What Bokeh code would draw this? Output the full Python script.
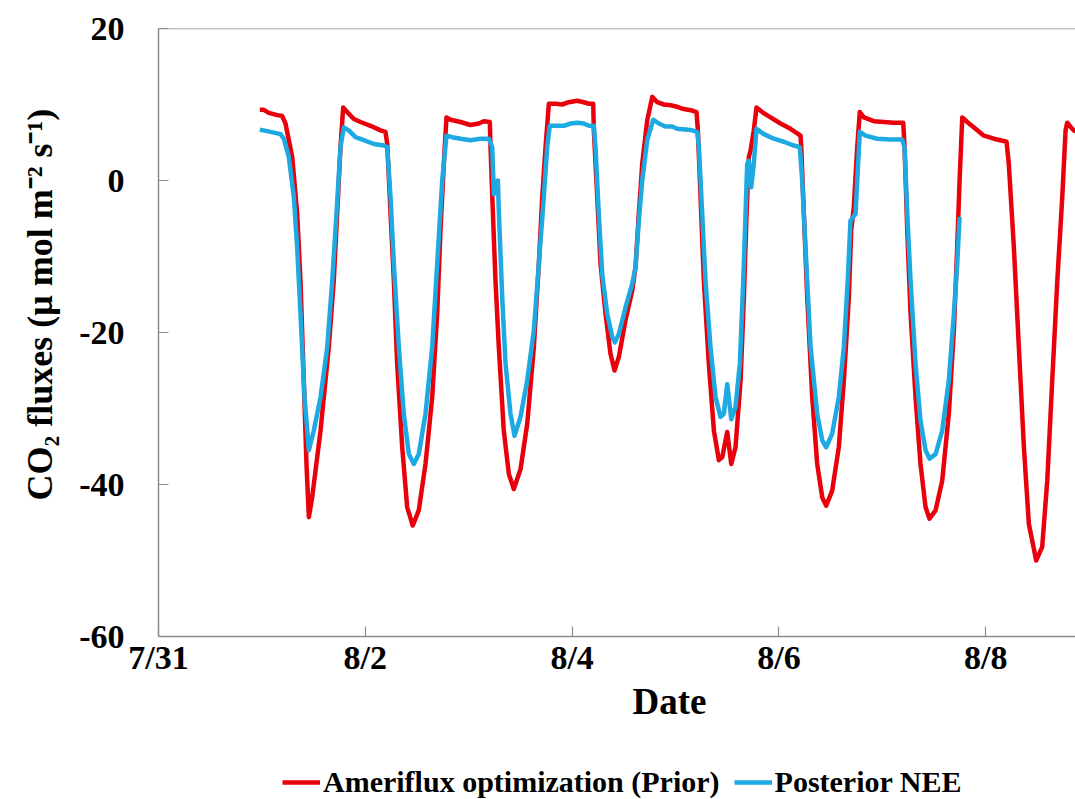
from bokeh.plotting import figure
from bokeh.layouts import column
from bokeh.models import Range1d, FixedTicker, Span, Title, Legend, LegendItem
from bokeh.embed import file_html
from bokeh.resources import INLINE

# ---- data (x = days since 7/31 00:00) ----
tick_days = [0, 2, 4, 6, 8]
tick_labels = ["7/31", "8/2", "8/4", "8/6", "8/8"]
y_ticks = [20, 0, -20, -40, -60]
y_tick_labels = ["20", "0", "-20", "-40", "-60"]

prior_day = [0.980, 1.018, 1.067, 1.148, 1.196, 1.228, 1.293, 1.341, 1.373, 1.405, 1.431, 1.454,
             1.486, 1.567, 1.647, 1.695, 1.728, 1.760, 1.786, 1.825, 1.889, 1.954, 2.050, 2.147,
             2.195, 2.212, 2.244, 2.276, 2.308, 2.357, 2.405, 2.459, 2.517, 2.582, 2.647, 2.695,
             2.727, 2.759, 2.785, 2.824, 2.921, 3.017, 3.098, 3.146, 3.204, 3.211, 3.227, 3.259,
             3.291, 3.339, 3.388, 3.436, 3.501, 3.566, 3.630, 3.678, 3.711, 3.743, 3.775, 3.839,
             3.904, 3.968, 4.049, 4.113, 4.162, 4.204, 4.210, 4.243, 4.275, 4.323, 4.371, 4.410,
             4.452, 4.516, 4.581, 4.613, 4.645, 4.678, 4.726, 4.775, 4.823, 4.887, 4.952, 5.016,
             5.080, 5.161, 5.203, 5.216, 5.242, 5.274, 5.322, 5.371, 5.419, 5.452, 5.500, 5.539,
             5.580, 5.629, 5.661, 5.687, 5.709, 5.725, 5.757, 5.783, 5.838, 5.919, 6.015, 6.112,
             6.209, 6.216, 6.241, 6.274, 6.322, 6.370, 6.419, 6.457, 6.515, 6.579, 6.628, 6.676,
             6.699, 6.724, 6.757, 6.782, 6.821, 6.918, 7.015, 7.111, 7.202, 7.215, 7.241, 7.273,
             7.321, 7.369, 7.418, 7.456, 7.515, 7.579, 7.643, 7.692, 7.724, 7.747, 7.773, 7.821,
             7.901, 7.982, 8.078, 8.201, 8.223, 8.272, 8.320, 8.369, 8.417, 8.488, 8.546, 8.595,
             8.643, 8.692, 8.740, 8.772, 8.788, 8.837, 8.868]
prior_flux = [9.3, 9.3, 8.9, 8.6, 8.5, 7.5, 3.1, -4.3, -13.2, -26.3, -37.3, -44.3,
              -41.7, -32.9, -21.9, -13.2, -4.3, 4.4, 9.6, 9.0, 8.1, 7.7, 7.2, 6.6,
              6.4, 4.8, -4.3, -13.2, -24.1, -35.1, -43.0, -45.4, -43.4, -37.3, -28.5, -17.5,
              -6.6, 2.2, 8.3, 8.0, 7.7, 7.3, 7.5, 7.8, 7.7, 4.4, -1.8, -13.2,
              -21.9, -32.9, -38.6, -40.6, -38.0, -32.0, -21.9, -11.0, -2.2, 4.4, 10.1, 10.1,
              10.0, 10.3, 10.5, 10.3, 10.1, 10.1, 6.6, -2.2, -11.0, -17.5, -22.8, -25.0,
              -23.2, -18.4, -14.5, -11.4, -4.4, 2.2, 7.9, 11.0, 10.3, 10.0, 9.9, 9.7,
              9.4, 9.2, 9.0, 6.6, -2.2, -13.2, -24.1, -32.9, -36.8, -36.4, -33.1, -37.3,
              -35.1, -26.3, -15.4, -4.4, 3.1, 3.9, 6.6, 9.6, 9.0, 8.3, 7.5, 6.8,
              5.9, 4.4, -4.4, -15.4, -28.5, -37.3, -41.7, -42.8, -40.8, -35.1, -26.3, -15.4,
              -6.6, -3.5, 4.4, 9.0, 8.3, 7.8, 7.7, 7.6, 7.6, 4.4, -6.6, -17.5,
              -28.5, -37.3, -43.0, -44.5, -43.4, -39.5, -30.7, -19.7, -8.8, 0.0, 8.3, 7.7,
              6.8, 5.9, 5.5, 5.1, 2.2, -8.8, -21.9, -35.1, -45.2, -50.0, -48.2, -39.5,
              -26.3, -13.2, -2.2, 6.6, 7.6, 6.8, 6.4]

post_day = [0.980, 1.083, 1.180, 1.212, 1.260, 1.309, 1.341, 1.373, 1.412, 1.454, 1.502, 1.567,
            1.632, 1.680, 1.721, 1.760, 1.792, 1.840, 1.905, 1.985, 2.082, 2.179, 2.212, 2.244,
            2.276, 2.324, 2.372, 2.421, 2.469, 2.517, 2.582, 2.647, 2.695, 2.744, 2.785, 2.840,
            2.921, 3.017, 3.114, 3.194, 3.227, 3.243, 3.259, 3.282, 3.291, 3.324, 3.356, 3.404,
            3.443, 3.501, 3.566, 3.630, 3.678, 3.726, 3.759, 3.784, 3.856, 3.920, 3.985, 4.049,
            4.113, 4.162, 4.210, 4.226, 4.258, 4.291, 4.339, 4.388, 4.413, 4.452, 4.516, 4.581,
            4.613, 4.645, 4.678, 4.726, 4.784, 4.838, 4.903, 4.968, 5.016, 5.097, 5.161, 5.210,
            5.226, 5.258, 5.290, 5.338, 5.387, 5.435, 5.467, 5.500, 5.539, 5.580, 5.622, 5.655,
            5.677, 5.693, 5.709, 5.732, 5.757, 5.783, 5.854, 5.950, 6.047, 6.144, 6.202, 6.225,
            6.257, 6.306, 6.370, 6.419, 6.457, 6.515, 6.579, 6.628, 6.665, 6.692, 6.741, 6.757,
            6.782, 6.838, 6.950, 7.079, 7.192, 7.215, 7.241, 7.273, 7.321, 7.369, 7.418, 7.456,
            7.515, 7.579, 7.643, 7.692, 7.724, 7.747]
post_flux = [6.7, 6.4, 6.1, 5.5, 3.1, -2.2, -8.8, -17.5, -28.5, -35.5, -32.9, -28.5,
             -21.9, -13.2, -4.4, 4.4, 7.0, 6.6, 5.7, 5.3, 4.8, 4.6, 4.4, -2.2,
             -11.0, -21.9, -30.7, -36.0, -37.3, -36.0, -30.7, -21.9, -11.0, 0.0, 5.9, 5.7,
             5.5, 5.3, 5.5, 5.5, 4.4, -1.8, -0.5, 0.0, -4.0, -15.4, -24.1, -30.7,
             -33.6, -31.1, -26.3, -19.7, -11.0, -2.2, 4.4, 7.2, 7.2, 7.2, 7.5, 7.6,
             7.5, 7.2, 7.2, 4.4, -4.4, -12.3, -17.5, -20.6, -21.3, -20.2, -16.7, -13.6,
             -11.4, -5.3, 0.0, 5.3, 8.0, 7.5, 7.1, 7.1, 6.8, 6.7, 6.6, 6.4,
             4.4, -4.4, -13.2, -21.9, -28.5, -31.1, -30.7, -26.8, -31.4, -29.8, -24.1, -13.2,
             -4.4, 2.2, 2.6, -0.9, 2.2, 6.8, 6.1, 5.5, 5.1, 4.6, 4.4, 0.0,
             -8.8, -21.9, -30.7, -34.2, -35.1, -33.3, -28.5, -21.9, -13.2, -5.3, -4.4, 0.0,
             6.4, 5.9, 5.5, 5.4, 5.4, 4.4, -4.4, -13.2, -24.1, -31.6, -35.5, -36.6,
             -36.0, -32.9, -26.3, -17.5, -11.0, -4.8]

series_names = ["Ameriflux optimization (Prior)", "Posterior NEE"]
x_title = "Date"
y_title = "CO\u2082 fluxes (\u03bc mol m\u207b\u00b2 s\u207b\u00b9)"

FONT = "Liberation Serif"
AXIS_COLOR = "#8C8C8C"
RED = "#E8000B"
BLUE = "#1DA9E1"
LW = 4.5

# ---------------- main chart ----------------
p = figure(frame_width=917, frame_height=608,
           x_range=Range1d(0, 8.868), y_range=Range1d(-60, 20),
           output_backend="svg", toolbar_location=None,
           min_border_left=158, min_border_right=0,
           min_border_top=28, min_border_bottom=100)
p.outline_line_color = None
p.xgrid.visible = False
p.ygrid.visible = False
p.background_fill_color = "white"
p.border_fill_color = "white"

p.line(prior_day, prior_flux, line_color=RED, line_width=LW, line_join="round")
p.line(post_day, post_flux, line_color=BLUE, line_width=LW, line_join="round")

for ax in (p.xaxis[0], p.yaxis[0]):
    ax.axis_line_color = AXIS_COLOR
    ax.axis_line_width = 1.5
    ax.major_tick_line_color = AXIS_COLOR
    ax.major_tick_line_width = 1.2
    ax.major_tick_in = 10
    ax.major_tick_out = 0
    ax.minor_tick_line_color = None
    ax.major_label_text_font = FONT
    ax.major_label_text_font_style = "bold"
    ax.major_label_text_font_size = "34px"
    ax.major_label_text_color = "black"

p.xaxis.ticker = FixedTicker(ticks=tick_days)
p.xaxis.major_label_overrides = {d: t for d, t in zip(tick_days, tick_labels)}
p.xaxis.major_label_standoff = 2
p.yaxis.ticker = FixedTicker(ticks=y_ticks)
p.yaxis.major_label_overrides = {v: t for v, t in zip(y_ticks, y_tick_labels)}
p.yaxis.major_label_standoff = 34

p.add_layout(Span(location=20, dimension="width", line_color=AXIS_COLOR, line_width=1.5))

p.add_layout(Title(text=x_title, align="left", offset=474, standoff=0,
                   text_font=FONT, text_font_style="bold", text_font_size="37px",
                   text_color="black"), "below")
p.add_layout(Title(text=y_title, align="left", offset=136, standoff=34,
                   text_font=FONT, text_font_style="bold", text_font_size="36px",
                   text_color="black"), "left")

# ---------------- legend strip below (frame aligned with the chart) ----------------
leg = figure(width=1075, height=63, x_range=Range1d(0, 1), y_range=Range1d(0, 1),
             output_backend="svg", toolbar_location=None,
             min_border=0, x_axis_type=None, y_axis_type=None)
leg.outline_line_color = None
leg.xgrid.visible = False
leg.ygrid.visible = False
# single-point lines: nothing drawn in the strip, only used for the legend keys
lr_prior = leg.line(prior_day[:1], prior_flux[:1], line_color=RED, line_width=LW)
lr_post = leg.line(post_day[:1], post_flux[:1], line_color=BLUE, line_width=LW)

legend = Legend(items=[LegendItem(label=series_names[0], renderers=[lr_prior]),
                       LegendItem(label=series_names[1], renderers=[lr_post])],
                location=(124, 0), orientation="horizontal",
                label_text_font=FONT, label_text_font_style="bold", label_text_font_size="30px",
                label_text_color="black", glyph_width=38, label_standoff=3, spacing=14,
                padding=0, margin=0, border_line_color=None, background_fill_alpha=0)
leg.add_layout(legend)

open("out.html", "w").write(file_html(column(p, leg, spacing=0), INLINE))
